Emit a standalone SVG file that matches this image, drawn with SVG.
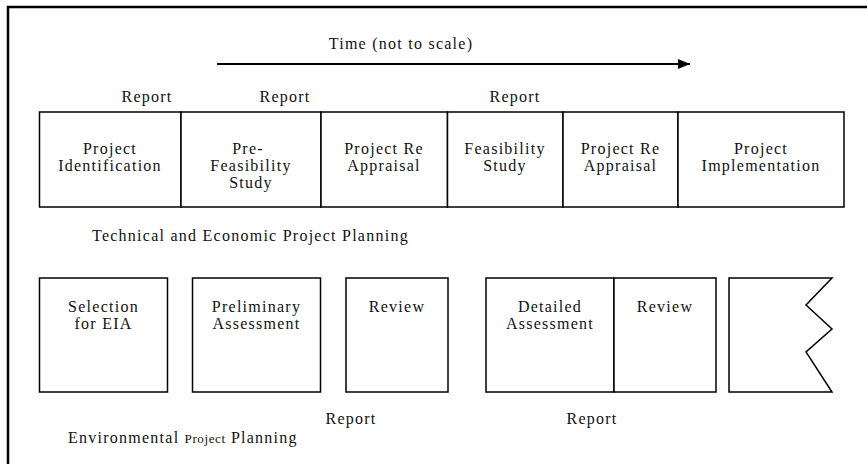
<svg xmlns="http://www.w3.org/2000/svg" width="867" height="464" viewBox="0 0 867 464">
<defs>
<marker id="ah" viewBox="0 0 12 10" refX="12" refY="5" markerWidth="12" markerHeight="10" markerUnits="userSpaceOnUse" orient="auto">
<path d="M0,0 L12,5 L0,10 Z" fill="#000"/>
</marker>
</defs>
<style>
text{font-family:"Liberation Serif","Times New Roman",serif;font-size:16px;fill:#111;letter-spacing:1.25px}
.c{text-anchor:middle}
.box{fill:#fff;stroke:#000;stroke-width:1.5}
.sm{font-size:13px;letter-spacing:0.6px}
</style>
<rect x="0" y="0" width="867" height="464" fill="#fff"/>
<path d="M8,464 V7 H867" fill="none" stroke="#000" stroke-width="2.5"/>
<g id="time">
<text class="c" x="401" y="49">Time (not to scale)</text>
</g>
<g id="connectors">
<line x1="217" y1="64" x2="690" y2="64" stroke="#000" stroke-width="2" marker-end="url(#ah)"/>
</g>
<g id="reports-top">
<text class="c" x="147" y="102">Report</text>
<text class="c" x="285" y="102">Report</text>
<text class="c" x="515" y="102">Report</text>
</g>
<g id="project-identification">
<rect class="box" x="39.5" y="112" width="141.5" height="95"/>
<text class="c" x="110" y="154">Project</text>
<text class="c" x="110" y="171">Identification</text>
</g>
<g id="pre-feasibility">
<rect class="box" x="181" y="112" width="140" height="95"/>
<text class="c" x="248" y="154">Pre-</text>
<text class="c" x="251" y="171">Feasibility</text>
<text class="c" x="251" y="188">Study</text>
</g>
<g id="reappraisal-1">
<rect class="box" x="321" y="112" width="126.5" height="95"/>
<text class="c" x="384" y="154">Project Re</text>
<text class="c" x="384" y="171">Appraisal</text>
</g>
<g id="feasibility">
<rect class="box" x="447.5" y="112" width="115.5" height="95"/>
<text class="c" x="505" y="154">Feasibility</text>
<text class="c" x="505" y="171">Study</text>
</g>
<g id="reappraisal-2">
<rect class="box" x="563" y="112" width="115" height="95"/>
<text class="c" x="620.5" y="154">Project Re</text>
<text class="c" x="620.5" y="171">Appraisal</text>
</g>
<g id="implementation">
<rect class="box" x="678" y="112" width="166" height="95"/>
<text class="c" x="761" y="154">Project</text>
<text class="c" x="761" y="171">Implementation</text>
</g>
<g id="technical-label">
<text x="92" y="241">Technical and Economic Project Planning</text>
</g>
<g id="selection">
<rect class="box" x="39.5" y="278" width="128" height="114"/>
<text class="c" x="103.5" y="312">Selection</text>
<text class="c" x="103.5" y="329">for EIA</text>
</g>
<g id="preliminary">
<rect class="box" x="192.5" y="278" width="128" height="114"/>
<text class="c" x="256.5" y="312">Preliminary</text>
<text class="c" x="256.5" y="329">Assessment</text>
</g>
<g id="review-1">
<rect class="box" x="346" y="278" width="102" height="114"/>
<text class="c" x="397" y="312">Review</text>
</g>
<g id="detailed">
<rect class="box" x="486" y="278" width="128" height="114"/>
<text class="c" x="550" y="312">Detailed</text>
<text class="c" x="550" y="329">Assessment</text>
</g>
<g id="review-2">
<rect class="box" x="614" y="278" width="102" height="114"/>
<text class="c" x="665" y="312">Review</text>
</g>
<g id="continuation">
<path class="box" d="M729,278 H832 L806,305 L832,329 L806,352 L832,392 H729 Z"/>
</g>
<g id="reports-bottom">
<text class="c" x="351" y="424">Report</text>
<text class="c" x="592" y="424">Report</text>
</g>
<g id="environmental-label">
<text x="68" y="443">Environmental <tspan class="sm">Project</tspan> Planning</text>
</g>
</svg>
